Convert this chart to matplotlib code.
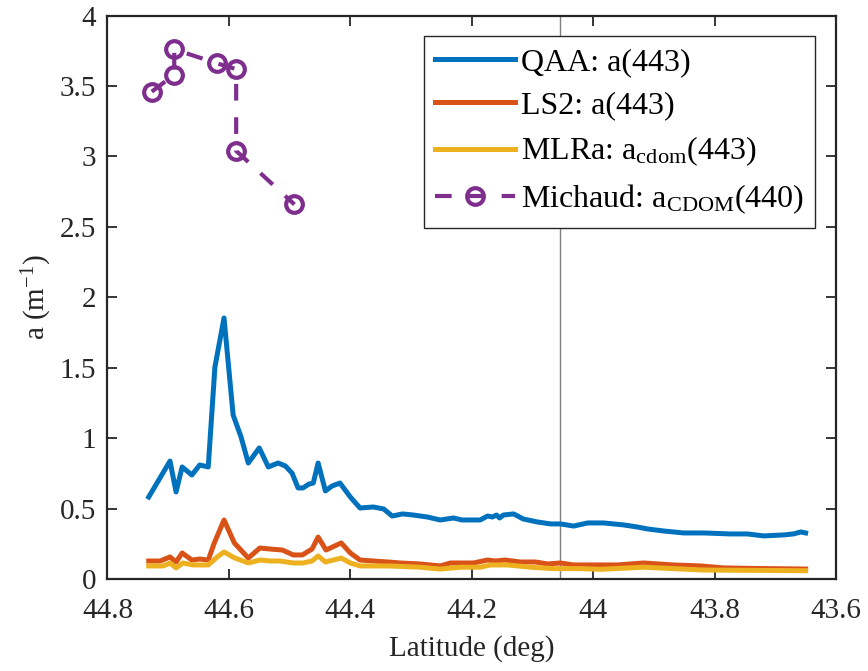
import matplotlib
matplotlib.use("Agg")
import matplotlib.pyplot as plt
from matplotlib.ticker import FuncFormatter

plt.rcParams['font.family'] = ['Liberation Serif', 'DejaVu Serif']
plt.rcParams['mathtext.fontset'] = 'custom'
plt.rcParams['mathtext.rm'] = 'Liberation Serif'
plt.rcParams['mathtext.it'] = 'Liberation Serif:italic'

# QAA: a(443)
qaa_lat = [44.732, 44.697, 44.687, 44.677, 44.661, 44.648, 44.634, 44.623, 44.608,
           44.593, 44.580, 44.568, 44.550, 44.535, 44.519, 44.507, 44.496, 44.486,
           44.478, 44.468, 44.461, 44.453, 44.441, 44.430, 44.417, 44.400, 44.384,
           44.362, 44.345, 44.331, 44.314, 44.296, 44.273, 44.252, 44.230, 44.216,
           44.186, 44.174, 44.166, 44.159, 44.154, 44.148, 44.131, 44.115, 44.092,
           44.070, 44.054, 44.032, 44.009, 43.983, 43.950, 43.927, 43.910, 43.884,
           43.851, 43.818, 43.774, 43.746, 43.719, 43.686, 43.670, 43.658, 43.650]
qaa_a = [0.585, 0.840, 0.621, 0.798, 0.741, 0.812, 0.798, 1.507, 1.855,
         1.167, 1.011, 0.826, 0.933, 0.798, 0.826, 0.805, 0.755, 0.649,
         0.649, 0.677, 0.684, 0.826, 0.628, 0.663, 0.684, 0.585, 0.507,
         0.514, 0.500, 0.450, 0.465, 0.457, 0.443, 0.422, 0.436, 0.422,
         0.422, 0.450, 0.443, 0.457, 0.436, 0.457, 0.465, 0.429, 0.408,
         0.394, 0.394, 0.379, 0.401, 0.401, 0.387, 0.372, 0.358, 0.344,
         0.330, 0.330, 0.323, 0.323, 0.309, 0.316, 0.323, 0.337, 0.330]

# LS2: a(443)
ls2_lat = [44.732, 44.713, 44.697, 44.687, 44.677, 44.661, 44.648, 44.634, 44.624,
           44.608, 44.591, 44.568, 44.549, 44.532, 44.512, 44.494, 44.479, 44.463,
           44.453, 44.440, 44.415, 44.400, 44.384, 44.362, 44.338, 44.318, 44.285,
           44.252, 44.235, 44.197, 44.174, 44.161, 44.145, 44.120, 44.095, 44.075,
           44.054, 44.032, 43.988, 43.960, 43.917, 43.868, 43.823, 43.785, 43.729,
           43.650]
ls2_a = [0.131, 0.131, 0.160, 0.124, 0.188, 0.138, 0.145, 0.138, 0.259,
         0.422, 0.259, 0.152, 0.223, 0.216, 0.209, 0.174, 0.174, 0.216,
         0.301, 0.209, 0.259, 0.188, 0.138, 0.131, 0.124, 0.117, 0.110,
         0.096, 0.117, 0.117, 0.138, 0.131, 0.138, 0.124, 0.124, 0.110,
         0.117, 0.103, 0.103, 0.103, 0.117, 0.103, 0.096, 0.082, 0.078,
         0.074]

# MLRa: a_cdom(443)
mlr_lat = [44.732, 44.708, 44.697, 44.687, 44.676, 44.659, 44.634, 44.619, 44.608,
           44.590, 44.568, 44.549, 44.532, 44.516, 44.494, 44.478, 44.463, 44.453,
           44.441, 44.415, 44.400, 44.384, 44.338, 44.285, 44.252, 44.219, 44.186,
           44.169, 44.141, 44.103, 44.065, 44.021, 43.988, 43.917, 43.868, 43.818,
           43.650]
mlr_a = [0.096, 0.096, 0.117, 0.082, 0.117, 0.103, 0.103, 0.160, 0.195,
         0.152, 0.117, 0.138, 0.131, 0.131, 0.117, 0.117, 0.131, 0.167,
         0.124, 0.152, 0.117, 0.096, 0.096, 0.087, 0.074, 0.087, 0.087,
         0.103, 0.103, 0.087, 0.077, 0.077, 0.072, 0.087, 0.077, 0.067,
         0.062]

# Michaud: a_CDOM(440)
mich_lat = [44.727, 44.690, 44.690, 44.619, 44.588, 44.588, 44.492]
mich_a = [3.46, 3.58, 3.76, 3.66, 3.62, 3.04, 2.66]

ref_lat = 44.055

fig = plt.figure(figsize=(8.68, 6.71), dpi=100)
ax = fig.add_axes([0.1238, 0.1364, 0.8393, 0.8405])

ax.axvline(ref_lat, color='#7f7f7f', linewidth=1.0, zorder=1)
ax.plot(qaa_lat, qaa_a, color='#0072BD', linewidth=3.6, label='QAA: a(443)')
ax.plot(ls2_lat, ls2_a, color='#D95319', linewidth=3.6, label='LS2: a(443)')
ax.plot(mlr_lat, mlr_a, color='#EDB120', linewidth=3.6,
        label=r'MLRa: a$_{\mathrm{cdom}}$(443)')
ax.plot(mich_lat, mich_a, color='#7E2F8E', linewidth=3, linestyle=(0, (4, 4)),
        marker='o', markersize=12, markerfacecolor='none', markeredgewidth=3,
        label=r'Michaud: a$_{\mathrm{CDOM}}$(440)')

ax.set_xlim(44.8, 43.6)
ax.set_ylim(0, 4)
ax.set_xticks([44.8, 44.6, 44.4, 44.2, 44.0, 43.8, 43.6])
ax.set_yticks([0, 0.5, 1, 1.5, 2, 2.5, 3, 3.5, 4])
fmt = FuncFormatter(lambda v, p: '%g' % v)
ax.xaxis.set_major_formatter(fmt)
ax.yaxis.set_major_formatter(fmt)

ax.tick_params(direction='in', length=7, width=1.3, labelsize=21,
               colors='#262626', top=True, right=True)
ax.tick_params(axis='x', pad=13)
ax.tick_params(axis='y', pad=8)
for sp in ax.spines.values():
    sp.set_linewidth(1.6)
    sp.set_color('#262626')

ax.set_xlabel('Latitude (deg)', fontsize=21, color='#262626', labelpad=8)
ax.set_ylabel(r'a (m$^{-1}$)', fontsize=21, color='#262626', labelpad=4)

leg = ax.legend(loc='upper right', fontsize=23, fancybox=False, framealpha=1,
                edgecolor='#262626', handlelength=2.5, handletextpad=0.2,
                borderaxespad=0.65, labelspacing=0.45, borderpad=0.35)
leg.get_frame().set_linewidth(1.0)

fig.savefig('out.png', dpi=100)
